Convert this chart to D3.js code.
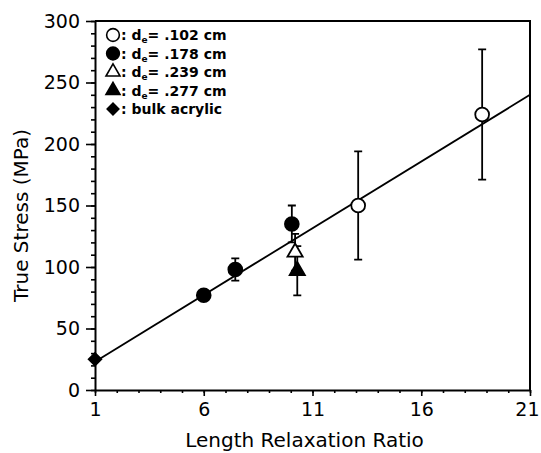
<!DOCTYPE html>
<html>
<head>
<meta charset="utf-8">
<script src="https://cdn.jsdelivr.net/npm/d3@7"></script>
<style>
  body { margin: 0; background: #fff; }
  text { font-family: "DejaVu Sans", sans-serif; fill: #000; }
</style>
</head>
<body>
<div class="canvas"></div>
<script>
// data
const openCircX = [13.1, 18.8];
const openCircY = [150, 224];
const openCircErr = [44, 53];

const fillCircX = [6, 7.45, 10.05];
const fillCircY = [77, 98, 135];
const fillCircErr = [0, 9, 15];

const openTriX = [10.2];
const openTriY = [112];
const openTriErr = [15];

const fillTriX = [10.3];
const fillTriY = [97];
const fillTriErr = [20];

const bulkX = [1];
const bulkY = [25];

// linear fit
const fitX = [1, 21];
const fitY = [23, 240];

const xTicks = [1, 6, 11, 16, 21];
const yTicks = [0, 50, 100, 150, 200, 250, 300];

const legendLabels = ['.102 cm', '.178 cm', '.239 cm', '.277 cm', 'bulk acrylic'];

const width = 541, height = 453;
const margin = { top: 21, right: 11, bottom: 63, left: 95 };
const graphWidth = width - margin.left - margin.right;
const graphHeight = height - margin.top - margin.bottom;

const svg = d3.select('.canvas')
    .append('svg')
    .attr('width', width)
    .attr('height', height);

const graph = svg.append('g')
    .attr('transform', `translate(${margin.left},${margin.top})`);

const x = d3.scaleLinear().domain([1, 21]).range([0, graphWidth]);
const y = d3.scaleLinear().domain([0, 300]).range([graphHeight, 0]);

// frame (top + right)
graph.append('path')
    .attr('d', `M0,0H${graphWidth}V${graphHeight}`)
    .attr('fill', 'none')
    .attr('stroke', '#000')
    .attr('stroke-width', 2);

// minor ticks
const xMinor = graph.append('g')
    .attr('transform', `translate(0,${graphHeight})`)
    .call(d3.axisBottom(x).tickValues(d3.range(1, 22)).tickSize(3).tickFormat(''));
const yMinor = graph.append('g')
    .call(d3.axisLeft(y).tickValues(d3.range(0, 301, 10)).tickSize(4).tickFormat(''));

// major axes
const xAxisGroup = graph.append('g')
    .attr('transform', `translate(0,${graphHeight})`)
    .call(d3.axisBottom(x).tickValues(xTicks).tickSize(6).tickSizeOuter(0).tickPadding(7));
const yAxisGroup = graph.append('g')
    .call(d3.axisLeft(y).tickValues(yTicks).tickSize(9).tickSizeOuter(0).tickPadding(6));

[xMinor, yMinor, xAxisGroup, yAxisGroup].forEach(g => {
    g.selectAll('.domain').attr('stroke-width', 2);
    g.selectAll('line').attr('stroke-width', 1.6);
});
[xMinor, yMinor].forEach(g => g.select('.domain').remove());

graph.selectAll('.tick text')
    .style('font-size', '19px')
    .style('font-family', '"DejaVu Sans", sans-serif');

// keep the last x label inside the window
xAxisGroup.selectAll('.tick text')
    .filter(d => d === 21)
    .attr('text-anchor', 'end')
    .attr('dx', 9);

// axis titles
svg.append('text')
    .attr('x', margin.left + graphWidth / 2 - 8)
    .attr('y', 447)
    .attr('text-anchor', 'middle')
    .style('font-size', '20px')
    .text('Length Relaxation Ratio');

svg.append('text')
    .attr('transform', `translate(28,${margin.top + graphHeight / 2 + 10}) rotate(-90)`)
    .attr('text-anchor', 'middle')
    .style('font-size', '20px')
    .text('True Stress (MPa)');

// fit line
graph.append('path')
    .datum(fitX.map((d, i) => [d, fitY[i]]))
    .attr('d', d3.line().x(d => x(d[0])).y(d => y(d[1])))
    .attr('fill', 'none')
    .attr('stroke', '#000')
    .attr('stroke-width', 1.8);

// series table
const series = [
    { xs: openCircX, ys: openCircY, err: openCircErr, shape: d3.symbolCircle, size: 150, fill: '#fff', rot: 0 },
    { xs: fillCircX, ys: fillCircY, err: fillCircErr, shape: d3.symbolCircle, size: 150, fill: '#000', rot: 0 },
    { xs: openTriX, ys: openTriY, err: openTriErr, shape: d3.symbolTriangle, size: 100, fill: '#fff', rot: 0 },
    { xs: fillTriX, ys: fillTriY, err: fillTriErr, shape: d3.symbolTriangle, size: 100, fill: '#000', rot: 0 },
    { xs: bulkX, ys: bulkY, err: [0], shape: d3.symbolSquare, size: 80, fill: '#000', rot: 45 }
];

// error bars
series.forEach(s => {
    s.xs.forEach((xv, i) => {
        const e = s.err[i];
        if (!e) return;
        const cx = x(xv), y1 = y(s.ys[i] - e), y2 = y(s.ys[i] + e);
        graph.append('path')
            .attr('d', `M${cx},${y1}V${y2}M${cx - 4},${y1}H${cx + 4}M${cx - 4},${y2}H${cx + 4}`)
            .attr('fill', 'none')
            .attr('stroke', '#000')
            .attr('stroke-width', 1.8);
    });
});

// markers
series.forEach(s => {
    graph.selectAll(null)
        .data(s.xs.map((d, i) => [d, s.ys[i]]))
        .enter()
        .append('path')
        .attr('d', d3.symbol().type(s.shape).size(s.size))
        .attr('transform', d => `translate(${x(d[0])},${y(d[1])}) rotate(${s.rot})`)
        .attr('fill', s.fill)
        .attr('stroke', '#000')
        .attr('stroke-width', 1.8);
});

// legend
const legend = svg.append('g').attr('transform', 'translate(113,35)');
series.forEach((s, i) => {
    const row = legend.append('g').attr('transform', `translate(0,${i * 18.5})`);
    row.append('path')
        .attr('d', d3.symbol().type(s.shape).size(s.size * 0.85))
        .attr('transform', `rotate(${s.rot})`)
        .attr('fill', s.fill)
        .attr('stroke', '#000')
        .attr('stroke-width', 1.6);
    const t = row.append('text')
        .attr('x', 8)
        .attr('y', 5)
        .style('font-size', '14px')
        .style('font-weight', 'bold');
    if (i < 4) {
        t.append('tspan').text(': d');
        t.append('tspan').attr('dy', 3).style('font-size', '9px').text('e');
        t.append('tspan').attr('dy', -3).text('= ' + legendLabels[i]);
    } else {
        t.text(': ' + legendLabels[i]);
    }
});
</script>
</body>
</html>
